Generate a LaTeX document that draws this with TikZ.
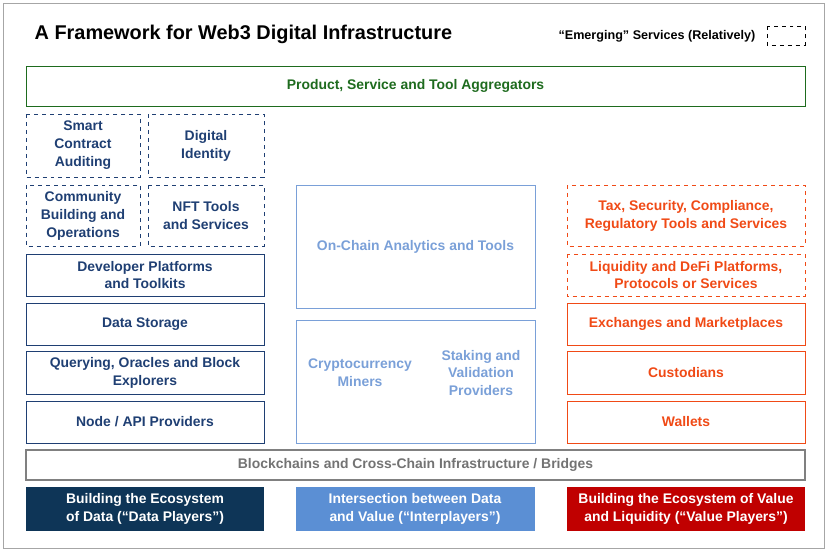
\documentclass[tikz,border=0pt]{standalone}
\usepackage{fontspec}
\setmainfont{Liberation Sans}
\usetikzlibrary{positioning}
\definecolor{dataBlue}{HTML}{1F3F73}
\definecolor{lightBlue}{HTML}{7AA0D8}
\definecolor{valueRed}{HTML}{F04A16}
\definecolor{aggGreen}{HTML}{1E6B1E}
\definecolor{navyFill}{HTML}{0E3557}
\definecolor{midFill}{HTML}{5B8FD4}
\definecolor{redFill}{HTML}{C00000}
\tikzset{
  label/.style={align=center, font=\bfseries\fontsize{10.5}{13.5}\selectfont}
}
% box from two corners (x in px, y downwards)
\newcommand{\fwbox}[7]{%
  \draw[#1] (#2,#3) rectangle (#4,#5);
  \node[label, text=#6] at ({(#2+#4)/2},{(#3+#5)/2}) {#7};}
\begin{document}
\begin{tikzpicture}[x=0.0265cm,y=-0.0265cm]
  \useasboundingbox (0,0) rectangle (828,551);
  \draw[gray!70] (3,3) rectangle (824,548);

  % title and legend
  \node[anchor=west, font=\bfseries\fontsize{15}{17}\selectfont] (title) at (30,34) {A Framework for Web3 Digital Infrastructure};
  \node[anchor=east, font=\bfseries\fontsize{9.5}{11}\selectfont] (legend) at (760,36) {“Emerging” Services (Relatively)};
  \draw[dashed] (767,26) rectangle (805,45);

  % aggregators
  \fwbox{aggGreen}{26}{66}{805}{106}{aggGreen}{Product, Service and Tool Aggregators}

  % data players
  \fwbox{dataBlue,dashed}{26}{114}{140}{177}{dataBlue}{Smart\\Contract\\Auditing}
  \fwbox{dataBlue,dashed}{148}{114}{264}{177}{dataBlue}{Digital\\Identity}
  \fwbox{dataBlue,dashed}{26}{185}{140}{246}{dataBlue}{Community\\Building and\\Operations}
  \fwbox{dataBlue,dashed}{148}{185}{264}{246}{dataBlue}{NFT Tools\\and Services}
  \fwbox{dataBlue}{26}{254}{264}{296}{dataBlue}{Developer Platforms\\and Toolkits}
  \fwbox{dataBlue}{26}{303}{264}{345}{dataBlue}{Data Storage}
  \fwbox{dataBlue}{26}{351}{264}{394}{dataBlue}{Querying, Oracles and Block\\Explorers}
  \fwbox{dataBlue}{26}{401}{264}{443}{dataBlue}{Node / API Providers}

  % interplayers
  \fwbox{lightBlue}{296}{185}{535}{308}{lightBlue}{On-Chain Analytics and Tools}
  \draw[lightBlue] (296,320) rectangle (535,443);
  \node[label, text=lightBlue] (miners) at (360,373) {Cryptocurrency\\Miners};
  \node[label, text=lightBlue] (staking) at (481,373) {Staking and\\Validation\\Providers};

  % value players
  \fwbox{valueRed,dashed}{567}{185}{805}{246}{valueRed}{Tax, Security, Compliance,\\Regulatory Tools and Services}
  \fwbox{valueRed,dashed}{567}{254}{805}{296}{valueRed}{Liquidity and DeFi Platforms,\\Protocols or Services}
  \fwbox{valueRed}{567}{303}{805}{345}{valueRed}{Exchanges and Marketplaces}
  \fwbox{valueRed}{567}{351}{805}{394}{valueRed}{Custodians}
  \fwbox{valueRed}{567}{401}{805}{443}{valueRed}{Wallets}

  % base layer
  \fwbox{gray,line width=1pt}{26}{450}{805}{480}{gray!90!black}{Blockchains and Cross-Chain Infrastructure / Bridges}

  % categories
  \fill[navyFill] (26,487) rectangle (264,531);
  \node[label, text=white] (data) at (145,509) {Building the Ecosystem\\of Data (“Data Players”)};
  \fill[midFill] (296,487) rectangle (535,531);
  \node[label, text=white] (inter) at (415,509) {Intersection between Data\\and Value (“Interplayers”)};
  \fill[redFill] (567,487) rectangle (805,531);
  \node[label, text=white] (value) at (686,509) {Building the Ecosystem of Value\\and Liquidity (“Value Players”)};
\end{tikzpicture}
\end{document}
